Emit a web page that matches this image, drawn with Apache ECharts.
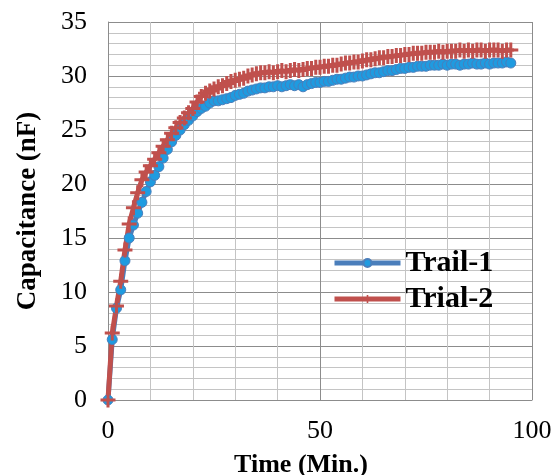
<!DOCTYPE html>
<html>
<head>
<meta charset="utf-8">
<script src="https://cdn.jsdelivr.net/npm/echarts@6/dist/echarts.min.js"></script>
<style>
  html, body { margin: 0; padding: 0; background: #fff; }
  #main { width: 558px; height: 475px; }
</style>
</head>
<body>
<div id="main"></div>
<script>
// time in minutes, one reading per minute
const times = [];
for (let t = 0; t <= 95; t++) times.push(t);

const trail1 = [
  0, 5.6, 8.5, 10.2, 12.9, 15.0, 16.2, 17.3, 18.3, 19.3,
  20.2, 20.8, 21.6, 22.4, 23.2, 23.9, 24.5, 25.0, 25.5, 25.9,
  26.3, 26.7, 27.0, 27.2, 27.5, 27.7, 27.7, 27.8, 27.9, 28.0,
  28.2, 28.3, 28.4, 28.6, 28.7, 28.8, 28.9, 28.9, 29.0, 29.0,
  29.1, 29.0, 29.1, 29.2, 29.1, 29.2, 29.0, 29.2, 29.3, 29.4,
  29.4, 29.5, 29.5, 29.6, 29.7, 29.7, 29.8, 29.9, 29.9, 30.0,
  30.0, 30.1, 30.2, 30.3, 30.3, 30.4, 30.5, 30.5, 30.6, 30.7,
  30.7, 30.8, 30.8, 30.9, 30.9, 30.9, 31.0, 31.0, 31.0, 31.1,
  31.0, 31.1, 31.1, 31.0, 31.1, 31.1, 31.2, 31.1, 31.1, 31.2,
  31.1, 31.2, 31.2, 31.2, 31.3, 31.2
];

const trial2 = [
  0, 6.2, 8.7, 11.0, 13.9, 16.3, 17.8, 19.2, 20.4, 21.1,
  21.7, 22.3, 22.9, 23.5, 24.1, 24.7, 25.2, 25.7, 26.1, 26.6,
  27.0, 27.6, 28.1, 28.4, 28.6, 28.8, 29.0, 29.1, 29.3, 29.5,
  29.6, 29.7, 29.8, 30.0, 30.1, 30.2, 30.3, 30.3, 30.4, 30.3,
  30.4, 30.5, 30.4, 30.5, 30.6, 30.5, 30.6, 30.7, 30.7, 30.8,
  30.8, 30.9, 30.9, 31.0, 31.0, 31.1, 31.2, 31.2, 31.3, 31.3,
  31.4, 31.5, 31.5, 31.6, 31.7, 31.7, 31.8, 31.8, 31.9, 31.9,
  32.0, 32.0, 32.1, 32.1, 32.1, 32.2, 32.2, 32.2, 32.3, 32.2,
  32.3, 32.3, 32.3, 32.4, 32.3, 32.4, 32.3, 32.4, 32.4, 32.3,
  32.4, 32.4, 32.4, 32.3, 32.4, 32.4
];

const seriesNames = ['Trail-1', 'Trial-2'];

const font = 'Liberation Serif';
const plusPath = 'path://M4,0h2v4h4v2h-4v4h-2v-4h-4v-2h4z';

function pairs(ys) {
  return times.map((t, i) => [t, ys[i]]);
}

let chart = echarts.init(document.getElementById('main'));
let option = {
  backgroundColor: '#fff',
  animation: false,
  textStyle: { fontFamily: font },
  grid: { left: 108, top: 22, right: 26, bottom: 75, outerBoundsMode: 'none' },
  xAxis: {
    type: 'value',
    min: 0,
    max: 100,
    interval: 50,
    name: 'Time (Min.)',
    nameLocation: 'middle',
    nameGap: 52,
    nameTextStyle: { fontFamily: font, fontSize: 26, fontWeight: 'bold', color: '#000', padding: [0, 38, 0, 0] },
    axisLine: { show: true, lineStyle: { color: '#8c8c8c' } },
    axisTick: { show: false },
    axisLabel: { fontFamily: font, fontSize: 26, color: '#000', margin: 18 },
    splitLine: { show: true, lineStyle: { color: '#8c8c8c', width: 1 } },
    minorTick: { show: false, splitNumber: 5 },
    minorSplitLine: { show: true, lineStyle: { color: '#c4c4c4', width: 1 } }
  },
  yAxis: {
    type: 'value',
    min: 0,
    max: 35,
    interval: 5,
    name: 'Capacitance (nF)',
    nameLocation: 'middle',
    nameGap: 66,
    nameTextStyle: { fontFamily: font, fontSize: 27, fontWeight: 'bold', color: '#000' },
    axisLine: { show: true, lineStyle: { color: '#8c8c8c' } },
    axisTick: { show: false },
    axisLabel: { fontFamily: font, fontSize: 26, color: '#000', margin: 21 },
    splitLine: { show: true, lineStyle: { color: '#8c8c8c', width: 1 } },
    minorTick: { show: false, splitNumber: 5 },
    minorSplitLine: { show: true, lineStyle: { color: '#c4c4c4', width: 1 } }
  },
  legend: {
    data: seriesNames,
    orient: 'vertical',
    left: 327,
    top: 243,
    itemWidth: 66,
    itemHeight: 10,
    itemGap: 6,
    lineStyle: { width: 5 },
    textStyle: { fontFamily: font, fontSize: 30, fontWeight: 'bold', color: '#000' }
  },
  series: [
    {
      name: seriesNames[0],
      type: 'line',
      data: pairs(trail1),
      symbol: 'circle',
      symbolSize: 10,
      showAllSymbol: true,
      lineStyle: { color: '#4a7ebb', width: 5 },
      itemStyle: { color: '#1f9be0', borderColor: '#4a7ebb', borderWidth: 1 }
    },
    {
      name: seriesNames[1],
      type: 'line',
      data: pairs(trial2),
      symbol: plusPath,
      symbolSize: 15,
      showAllSymbol: true,
      lineStyle: { color: '#c0504d', width: 5 },
      itemStyle: { color: '#c0504d' }
    }
  ]
};
chart.setOption(option);
</script>
</body>
</html>
